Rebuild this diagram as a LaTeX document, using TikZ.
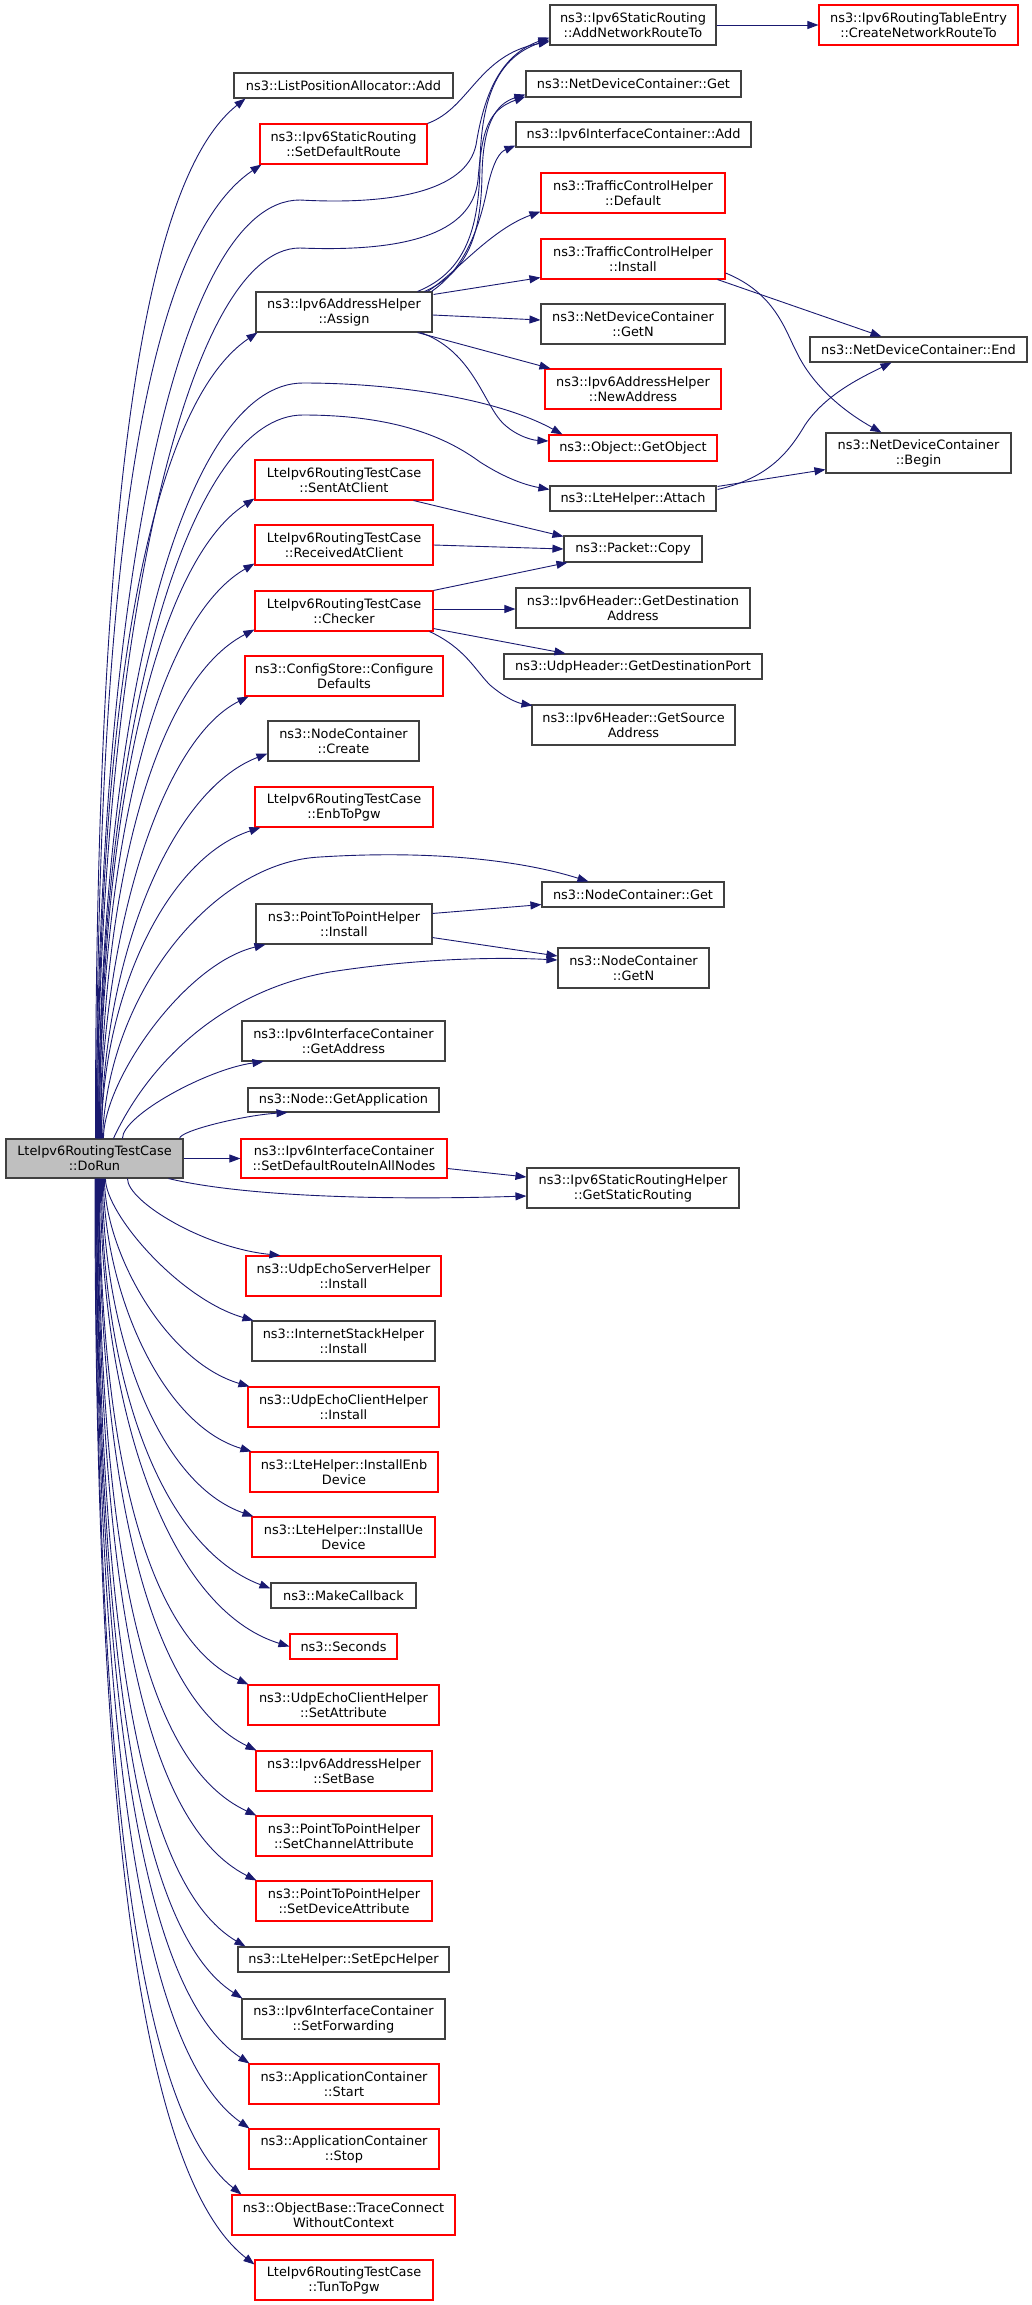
\documentclass[tikz,border=0pt]{standalone}
\usepackage{fontspec}
\setmainfont{DejaVu Sans}
\usetikzlibrary{arrows.meta,calc}
\definecolor{edgec}{HTML}{191970}
\definecolor{redc}{HTML}{FF0000}
\definecolor{blkc}{HTML}{404040}
\definecolor{fillc}{HTML}{BFBFBF}
\newcommand\nd[7]{%
  \pgfmathsetmacro\ndX{(#3+#4)/2}%
  \pgfmathsetmacro\ndY{(#5+#6)/2}%
  \pgfmathsetmacro\ndW{#4-#3}%
  \pgfmathsetmacro\ndH{#6-#5}%
  \node[#1, minimum width=\ndW pt, minimum height=\ndH pt] (#2) at (\ndX,\ndY) {#7};}
\newcommand\fanG[5]{%
  \draw[conn] let \p1=(#1), \p2=(#2) in
    (\p1) .. controls (\x1,{\y1+#3*(\y2-\y1)}) and ({\x1+#4*(\x2-\x1)},{\y2-#5*(\y2-\y1)}) .. (\p2);}
\newcommand\fanU[5]{\fanG{$(DoRun.north west)+({#1-6},0)$}{#2}{#3}{#4}{#5}}
\newcommand\fanD[5]{\fanG{$(DoRun.south west)+({#1-6},0)$}{#2}{#3}{#4}{#5}}
\begin{document}
\begin{tikzpicture}[x=1pt,y=-1pt,
  every node/.style={font=\fontsize{12.9}{15}\selectfont, inner sep=0pt, align=center},
  blk/.style={draw=blkc, line width=1.1pt, rectangle},
  rd/.style={draw=redc, line width=1.1pt, rectangle},
  cur/.style={draw=blkc, fill=fillc, line width=1.1pt, rectangle},
  conn/.style={draw=edgec, line width=0.9pt, -{Triangle[length=11pt,width=8pt]}}]
\useasboundingbox (0,0) rectangle (1032,2305);

% column 1
\nd{cur}{DoRun}{6}{183}{1139}{1178}{LteIpv6RoutingTestCase\\::DoRun}

% column 2
\nd{blk}{ListPos}{234}{453}{73}{98}{ns3::ListPositionAllocator::Add}
\nd{rd}{SetDefRoute}{260}{427}{124}{164}{ns3::Ipv6StaticRouting\\::SetDefaultRoute}
\nd{blk}{Assign}{256}{432}{292}{332}{ns3::Ipv6AddressHelper\\::Assign}
\nd{rd}{SentAt}{255}{433}{460}{500}{LteIpv6RoutingTestCase\\::SentAtClient}
\nd{rd}{RecvAt}{255}{433}{525}{565}{LteIpv6RoutingTestCase\\::ReceivedAtClient}
\nd{rd}{Checker}{255}{433}{591}{631}{LteIpv6RoutingTestCase\\::Checker}
\nd{rd}{CfgDef}{245}{443}{656}{696}{ns3::ConfigStore::Configure\\Defaults}
\nd{blk}{NCCreate}{268}{419}{721}{761}{ns3::NodeContainer\\::Create}
\nd{rd}{EnbToPgw}{255}{433}{787}{827}{LteIpv6RoutingTestCase\\::EnbToPgw}
\nd{blk}{PPInstall}{256}{432}{904}{944}{ns3::PointToPointHelper\\::Install}
\nd{blk}{GetAddr}{242}{445}{1021}{1061}{ns3::Ipv6InterfaceContainer\\::GetAddress}
\nd{blk}{GetApp}{248}{439}{1088}{1112}{ns3::Node::GetApplication}
\nd{rd}{SetDRAll}{241}{447}{1139}{1178}{ns3::Ipv6InterfaceContainer\\::SetDefaultRouteInAllNodes}
\nd{rd}{UESInst}{246}{441}{1256}{1296}{ns3::UdpEchoServerHelper\\::Install}
\nd{blk}{ISHInst}{252}{435}{1321}{1361}{ns3::InternetStackHelper\\::Install}
\nd{rd}{UECInst}{248}{439}{1387}{1427}{ns3::UdpEchoClientHelper\\::Install}
\nd{rd}{InstEnb}{250}{438}{1452}{1492}{ns3::LteHelper::InstallEnb\\Device}
\nd{rd}{InstUe}{252}{435}{1517}{1557}{ns3::LteHelper::InstallUe\\Device}
\nd{blk}{MakeCb}{271}{416}{1583}{1608}{ns3::MakeCallback}
\nd{rd}{Seconds}{290}{397}{1634}{1659}{ns3::Seconds}
\nd{rd}{SetAttr}{248}{439}{1685}{1725}{ns3::UdpEchoClientHelper\\::SetAttribute}
\nd{rd}{SetBase}{256}{432}{1751}{1791}{ns3::Ipv6AddressHelper\\::SetBase}
\nd{rd}{SetChan}{256}{432}{1816}{1856}{ns3::PointToPointHelper\\::SetChannelAttribute}
\nd{rd}{SetDev}{256}{432}{1881}{1921}{ns3::PointToPointHelper\\::SetDeviceAttribute}
\nd{blk}{SetEpc}{238}{449}{1947}{1972}{ns3::LteHelper::SetEpcHelper}
\nd{blk}{SetFwd}{242}{445}{1999}{2039}{ns3::Ipv6InterfaceContainer\\::SetForwarding}
\nd{rd}{AppStart}{249}{439}{2064}{2104}{ns3::ApplicationContainer\\::Start}
\nd{rd}{AppStop}{249}{439}{2129}{2169}{ns3::ApplicationContainer\\::Stop}
\nd{rd}{TraceConn}{232}{455}{2195}{2235}{ns3::ObjectBase::TraceConnect\\WithoutContext}
\nd{rd}{TunToPgw}{255}{433}{2260}{2300}{LteIpv6RoutingTestCase\\::TunToPgw}

% column 3
\nd{blk}{AddNRT}{550}{716}{5}{45}{ns3::Ipv6StaticRouting\\::AddNetworkRouteTo}
\nd{blk}{NDCGet}{526}{741}{71}{97}{ns3::NetDeviceContainer::Get}
\nd{blk}{ICAdd}{516}{751}{122}{147}{ns3::Ipv6InterfaceContainer::Add}
\nd{rd}{TCHDef}{541}{725}{173}{213}{ns3::TrafficControlHelper\\::Default}
\nd{rd}{TCHInst}{541}{725}{239}{279}{ns3::TrafficControlHelper\\::Install}
\nd{blk}{NDCGetN}{541}{725}{304}{344}{ns3::NetDeviceContainer\\::GetN}
\nd{rd}{NewAddr}{545}{721}{369}{409}{ns3::Ipv6AddressHelper\\::NewAddress}
\nd{rd}{GetObj}{549}{717}{435}{461}{ns3::Object::GetObject}
\nd{blk}{Attach}{550}{716}{486}{511}{ns3::LteHelper::Attach}
\nd{blk}{PktCopy}{564}{702}{536}{562}{ns3::Packet::Copy}
\nd{blk}{GetDstAddr}{516}{750}{588}{628}{ns3::Ipv6Header::GetDestination\\Address}
\nd{blk}{GetDstPort}{504}{762}{654}{679}{ns3::UdpHeader::GetDestinationPort}
\nd{blk}{GetSrcAddr}{532}{735}{705}{745}{ns3::Ipv6Header::GetSource\\Address}
\nd{blk}{NCGet}{542}{724}{882}{907}{ns3::NodeContainer::Get}
\nd{blk}{NCGetN}{558}{709}{948}{988}{ns3::NodeContainer\\::GetN}
\nd{blk}{GetSR}{527}{739}{1168}{1208}{ns3::Ipv6StaticRoutingHelper\\::GetStaticRouting}

% column 4
\nd{rd}{CreateNRT}{819}{1018}{5}{45}{ns3::Ipv6RoutingTableEntry\\::CreateNetworkRouteTo}
\nd{blk}{NDCEnd}{810}{1027}{337}{362}{ns3::NetDeviceContainer::End}
\nd{blk}{NDCBegin}{826}{1011}{433}{473}{ns3::NetDeviceContainer\\::Begin}

% ---- upward fan from DoRun
\fanU{96}{$(ListPos.south west)+(12,0)$}{0.6}{0.3}{0.08}
\fanU{97}{$(SetDefRoute.south west)+(2,0)$}{0.6}{0.3}{0.08}
\fanU{98}{$(Assign.south west)+(2,0)$}{0.55}{0.33}{0.09}
\fanU{100}{$(SentAt.south west)+(0,-2)$}{0.5}{0.36}{0.1}
\fanU{100}{$(RecvAt.south west)+(0,-2)$}{0.5}{0.36}{0.1}
\fanU{101}{$(Checker.south west)+(0,-2)$}{0.5}{0.36}{0.1}
\fanU{101}{$(CfgDef.south west)+(4,0)$}{0.45}{0.4}{0.1}
\fanU{102}{$(NCCreate.south west)+(0,-8)$}{0.45}{0.4}{0.1}
\fanU{102}{$(EnbToPgw.south west)+(6,0)$}{0.45}{0.4}{0.1}
\fanU{104}{$(PPInstall.south west)+(10,0)$}{0.3}{0.5}{0.1}
\fanU{123}{$(GetAddr.south west)+(22,0)$}{0.3}{0.6}{0.1}
\fanG{$(DoRun.north east)+(-4,0)$}{$(GetApp.south west)+(40,0)$}{0.3}{0.6}{0.1}

% ---- downward fan from DoRun
\fanD{128}{$(UESInst.north west)+(35,0)$}{0.3}{0.5}{0.1}
\fanD{106}{$(ISHInst.north west)+(2,0)$}{0.25}{0.5}{0.15}
\fanD{105}{$(UECInst.north west)+(2,0)$}{0.35}{0.42}{0.12}
\fanD{104}{$(InstEnb.north west)+(2,0)$}{0.4}{0.38}{0.1}
\fanD{103}{$(InstUe.north west)+(2,0)$}{0.45}{0.36}{0.1}
\fanD{102}{$(MakeCb.north west)+(0,6)$}{0.5}{0.36}{0.1}
\fanD{101}{$(Seconds.west)$}{0.5}{0.36}{0.08}
\fanD{100}{$(SetAttr.north west)+(1,0)$}{0.55}{0.33}{0.09}
\fanD{99.5}{$(SetBase.north west)+(1,0)$}{0.55}{0.33}{0.09}
\fanD{99}{$(SetChan.north west)+(1,0)$}{0.6}{0.3}{0.08}
\fanD{98.5}{$(SetDev.north west)+(1,0)$}{0.6}{0.3}{0.08}
\fanD{98}{$(SetEpc.north west)+(8,0)$}{0.6}{0.3}{0.08}
\fanD{97.5}{$(SetFwd.north west)+(1,0)$}{0.6}{0.3}{0.08}
\fanD{97}{$(AppStart.north west)+(1,0)$}{0.6}{0.3}{0.08}
\fanD{96.5}{$(AppStop.north west)+(1,0)$}{0.6}{0.3}{0.08}
\fanD{96}{$(TraceConn.north west)+(10,0)$}{0.6}{0.3}{0.08}
\fanD{95.5}{$(TunToPgw.north west)+(0,5)$}{0.6}{0.3}{0.08}

% ---- long routes from DoRun
\draw[conn] ($(DoRun.north west)+(91,0)$) .. controls (97,600) and (175,200) .. (300,200)
  .. controls (390,205) and (466,192) .. (476,145) .. controls (484,95) and (500,55) .. ($(AddNRT.south west)+(0,-8)$);
\draw[conn] ($(DoRun.north west)+(92,0)$) .. controls (98,650) and (185,248) .. (300,248)
  .. controls (400,252) and (472,236) .. (478,180) .. controls (482,130) and (488,110) .. ($(NDCGet.south west)+(0,-1)$);
\draw[conn] ($(DoRun.north west)+(93,0)$) .. controls (99,700) and (185,383) .. (303,383)
  .. controls (400,383) and (500,400) .. ($(GetObj.north west)+(14,0)$);
\draw[conn] ($(DoRun.north west)+(93,0)$) .. controls (99,720) and (190,415) .. (303,415)
  .. controls (400,415) and (450,440) .. (480,462) .. controls (505,478) and (525,485) .. ($(Attach.north west)+(0,4)$);
\draw[conn] ($(DoRun.north west)+(97,0)$) .. controls (108,990) and (215,862) .. (320,857)
  .. controls (430,850) and (520,860) .. ($(NCGet.north west)+(47,0)$);
\draw[conn] ($(DoRun.north west)+(108,0)$) .. controls (150,1060) and (225,990) .. (330,972)
  .. controls (420,958) and (500,957) .. ($(NCGetN.west)+(0,-8)$);
\draw[conn] (DoRun.east) -- (SetDRAll.west);
\draw[conn] ($(DoRun.south east)+(-15,0)$) .. controls (250,1198) and (400,1200) .. ($(GetSR.west)+(0,8)$);

% ---- column 2 to column 3
\draw[conn] (SetDefRoute.north east) .. controls (470,108) and (478,55) .. ($(AddNRT.south west)+(0,-4)$);
\draw[conn] ($(Assign.north east)+(-15,0)$) .. controls (465,272) and (479,230) .. (480,165)
  .. controls (481,85) and (505,55) .. ($(AddNRT.south west)+(0,-6)$);
\draw[conn] ($(Assign.north east)+(-8,0)$) .. controls (468,272) and (481,235) .. (482,175)
  .. controls (483,125) and (495,104) .. ($(NDCGet.south west)+(0,-3)$);
\draw[conn] ($(Assign.north east)+(-1,0)$) .. controls (470,265) and (482,215) .. (488,185)
  .. controls (494,160) and (500,152) .. ($(ICAdd.south west)+(0,-2)$);
\draw[conn] ($(Assign.north east)+(-5,0)$) .. controls (455,274) and (490,230) .. ($(TCHDef.south west)+(0,-2)$);
\draw[conn] ($(Assign.north east)+(1,3)$) -- ($(TCHInst.south west)+(0,-2)$);
\draw[conn] ($(Assign.east)+(0,3)$) -- ($(NDCGetN.west)+(0,-4)$);
\draw[conn] ($(Assign.south east)+(-15,0)$) -- ($(NewAddr.north west)+(6,0)$);
\draw[conn] ($(Assign.south east)+(-12,0)$) .. controls (470,350) and (482,398) .. (500,420)
  .. controls (512,434) and (530,440) .. ($(GetObj.west)+(0,-7)$);

\draw[conn] ($(SentAt.south east)+(-20,0)$) -- ($(PktCopy.north west)+(0,1)$);
\draw[conn] (RecvAt.east) -- (PktCopy.west);
\draw[conn] (Checker.north east) -- ($(PktCopy.south west)+(4,0)$);
\draw[conn] ($(Checker.east)+(0,-2)$) -- ($(GetDstAddr.west)+(0,1)$);
\draw[conn] ($(Checker.south east)+(0,-3)$) -- ($(GetDstPort.north west)+(62,0)$);
\draw[conn] ($(Checker.south east)+(-4,0)$) .. controls (465,648) and (475,670) .. (490,685)
  .. controls (505,698) and (518,703) .. ($(GetSrcAddr.north west)+(1,1)$);

\draw[conn] ($(PPInstall.north east)+(0,10)$) -- ($(NCGet.south west)+(0,-3)$);
\draw[conn] ($(PPInstall.south east)+(0,-7)$) -- ($(NCGetN.west)+(0,-12)$);
\draw[conn] ($(SetDRAll.east)+(0,10)$) -- ($(GetSR.west)+(0,-11)$);

% ---- column 3 to column 4
\draw[conn] (AddNRT.east) -- (CreateNRT.west);
\draw[conn] ($(TCHInst.south east)+(-8,0)$) -- ($(NDCEnd.north west)+(72,0)$);
\draw[conn] ($(TCHInst.east)+(0,14)$) .. controls (775,293) and (785,330) .. (797,353)
  .. controls (815,390) and (850,415) .. ($(NDCBegin.north west)+(56,0)$);
\draw[conn] ($(Attach.north east)+(1,4)$) .. controls (770,478) and (790,450) .. (805,425)
  .. controls (825,395) and (860,378) .. ($(NDCEnd.south west)+(82,0)$);
\draw[conn] ($(Attach.north east)+(1,1)$) -- ($(NDCBegin.south west)+(0,-4)$);
\end{tikzpicture}
\end{document}
